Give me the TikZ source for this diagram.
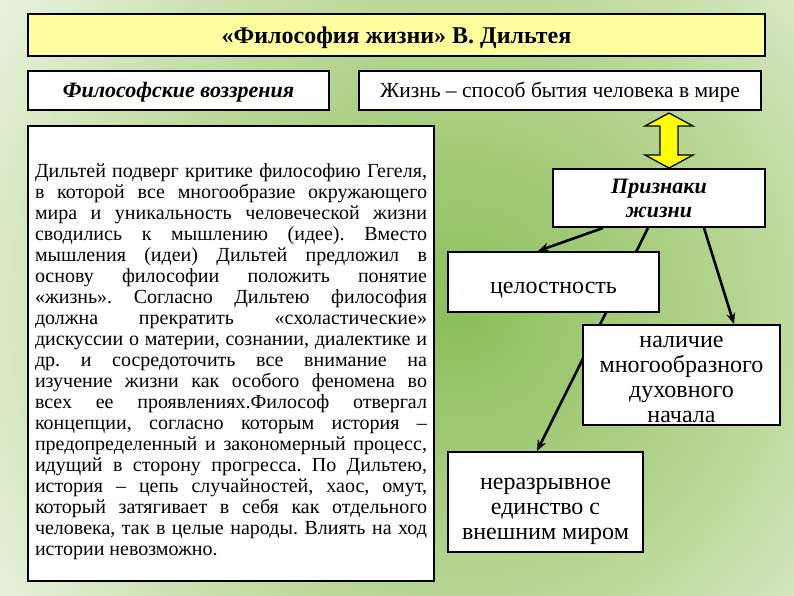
\documentclass[tikz,border=0pt]{standalone}
\usepackage{fontspec}
\setmainfont{Liberation Serif}
\usetikzlibrary{arrows.meta,calc}
\definecolor{gA}{RGB}{140,190,90}
\definecolor{gM}{RGB}{182,213,145}
\definecolor{gW}{RGB}{250,252,246}
\definecolor{ttl}{RGB}{255,255,160}
\definecolor{arrY}{RGB}{255,255,0}
\pgfdeclareradialshading{bgshade}{\pgfpoint{0bp}{0bp}}{color(0bp)=(gA); color(11bp)=(gM); color(25bp)=(gW); color(50bp)=(gW)}
\pgfdeclarelayer{bg}\pgfdeclarelayer{mid}\pgfsetlayers{bg,mid,main}
\newcommand{\dnshift}[2]{\raisebox{-#1}[\height][\depth]{\begin{tabular}{@{}c@{}}#2\end{tabular}}}
\begin{document}
\begin{tikzpicture}[x=1pt,y=-1pt,
  box/.style={draw=black,line width=2pt,fill=white,inner sep=0pt,align=center},
  conn/.style={line width=2.6pt,-{Stealth[length=11pt,width=9pt]}},
  bi/.style={font=\fontsize{22}{24}\selectfont\bfseries\itshape},
  rg/.style={font=\fontsize{21.5}{24}\selectfont},
  big/.style={font=\fontsize{24}{25}\selectfont}]
\useasboundingbox (0,0) rectangle (794,595);
\begin{pgfonlayer}{bg}
\clip (0,0) rectangle (794,595);
\fill[gW] (0,0) rectangle (794,595);
\shade[shading=bgshade] (460,310) circle (640);
\end{pgfonlayer}

\node[box,line width=2.5pt,fill=ttl,minimum width=737pt,minimum height=42pt,font=\fontsize{24}{26}\selectfont\bfseries] (title) at (396.5,35) {\dnshift{3pt}{«Философия жизни» В. Дильтея}};
\node[box,bi,minimum width=301pt,minimum height=39pt] (phil) at (178.5,90.5) {\dnshift{2pt}{Философские воззрения}};
\node[box,rg,minimum width=402pt,minimum height=39pt] (life) at (560,90.5) {\dnshift{2pt}{Жизнь – способ бытия человека в мире}};
\node[box,minimum width=406pt,minimum height=455pt] (text) at (231,353.5) {\raisebox{-8pt}[\height][\depth]{\parbox{392pt}{\fontsize{20}{21}\selectfont\hyphenpenalty=10000\frenchspacing
Дильтей подверг критике философию Гегеля,\linebreak
в которой все многообразие окружающего\linebreak
мира и уникальность человеческой жизни\linebreak
сводились к мышлению (идее). Вместо\linebreak
мышления (идеи) Дильтей предложил в\linebreak
основу философии положить понятие\linebreak
«жизнь». Согласно Дильтею философия\linebreak
должна прекратить «схоластические»\linebreak
дискуссии о материи, сознании, диалектике и\linebreak
др. и сосредоточить все внимание на\linebreak
изучение жизни как особого феномена во\linebreak
всех ее проявлениях.Философ отвергал\linebreak
концепции, согласно которым история –\linebreak
предопределенный и закономерный процесс,\linebreak
идущий в сторону прогресса. По Дильтею,\linebreak
история – цепь случайностей, хаос, омут,\linebreak
который затягивает в себя как отдельного\linebreak
человека, так в целые народы. Влиять на ход\linebreak
истории невозможно.}}};
\node[box,bi,minimum width=212pt,minimum height=58pt] (signs) at (659,198) {\dnshift{3pt}{Признаки\\жизни}};
\node[box,big,minimum width=211pt,minimum height=60pt] (whole) at (553.5,282) {\dnshift{6pt}{целостность}};
\node[box,big,minimum width=197pt,minimum height=100pt] (spirit) at (681.5,375) {\dnshift{5pt}{наличие\\многообразного\\духовного\\начала}};
\node[box,big,minimum width=195pt,minimum height=100pt] (unity) at (545.5,502) {\dnshift{7pt}{неразрывное\\единство с\\внешним миром}};

\path ([xshift=109pt]life.south) coordinate (ua);
\path ([xshift=10pt]signs.north) coordinate (ub);
\draw[line width=1.3pt,fill=arrY,line join=miter]
  ($(ua)+(0,2)$) -- ($(ua)+(24,15)$) -- ($(ua)+(9,15)$) -- ($(ub)+(9,-13)$) -- ($(ub)+(24,-13)$)
  -- (ub) -- ($(ub)+(-24,-13)$) -- ($(ub)+(-9,-13)$) -- ($(ua)+(-9,15)$) -- ($(ua)+(-24,15)$) -- cycle;

\begin{pgfonlayer}{mid}
\draw[conn] ([xshift=-56pt]signs.south) -- ([xshift=-15.5pt]whole.north);
\draw[conn] ([xshift=-11pt]signs.south) -- ([xshift=-8.5pt]unity.north);
\draw[conn] ([xshift=45pt]signs.south) -- ([xshift=52.5pt]spirit.north);
\end{pgfonlayer}
\end{tikzpicture}
\end{document}
